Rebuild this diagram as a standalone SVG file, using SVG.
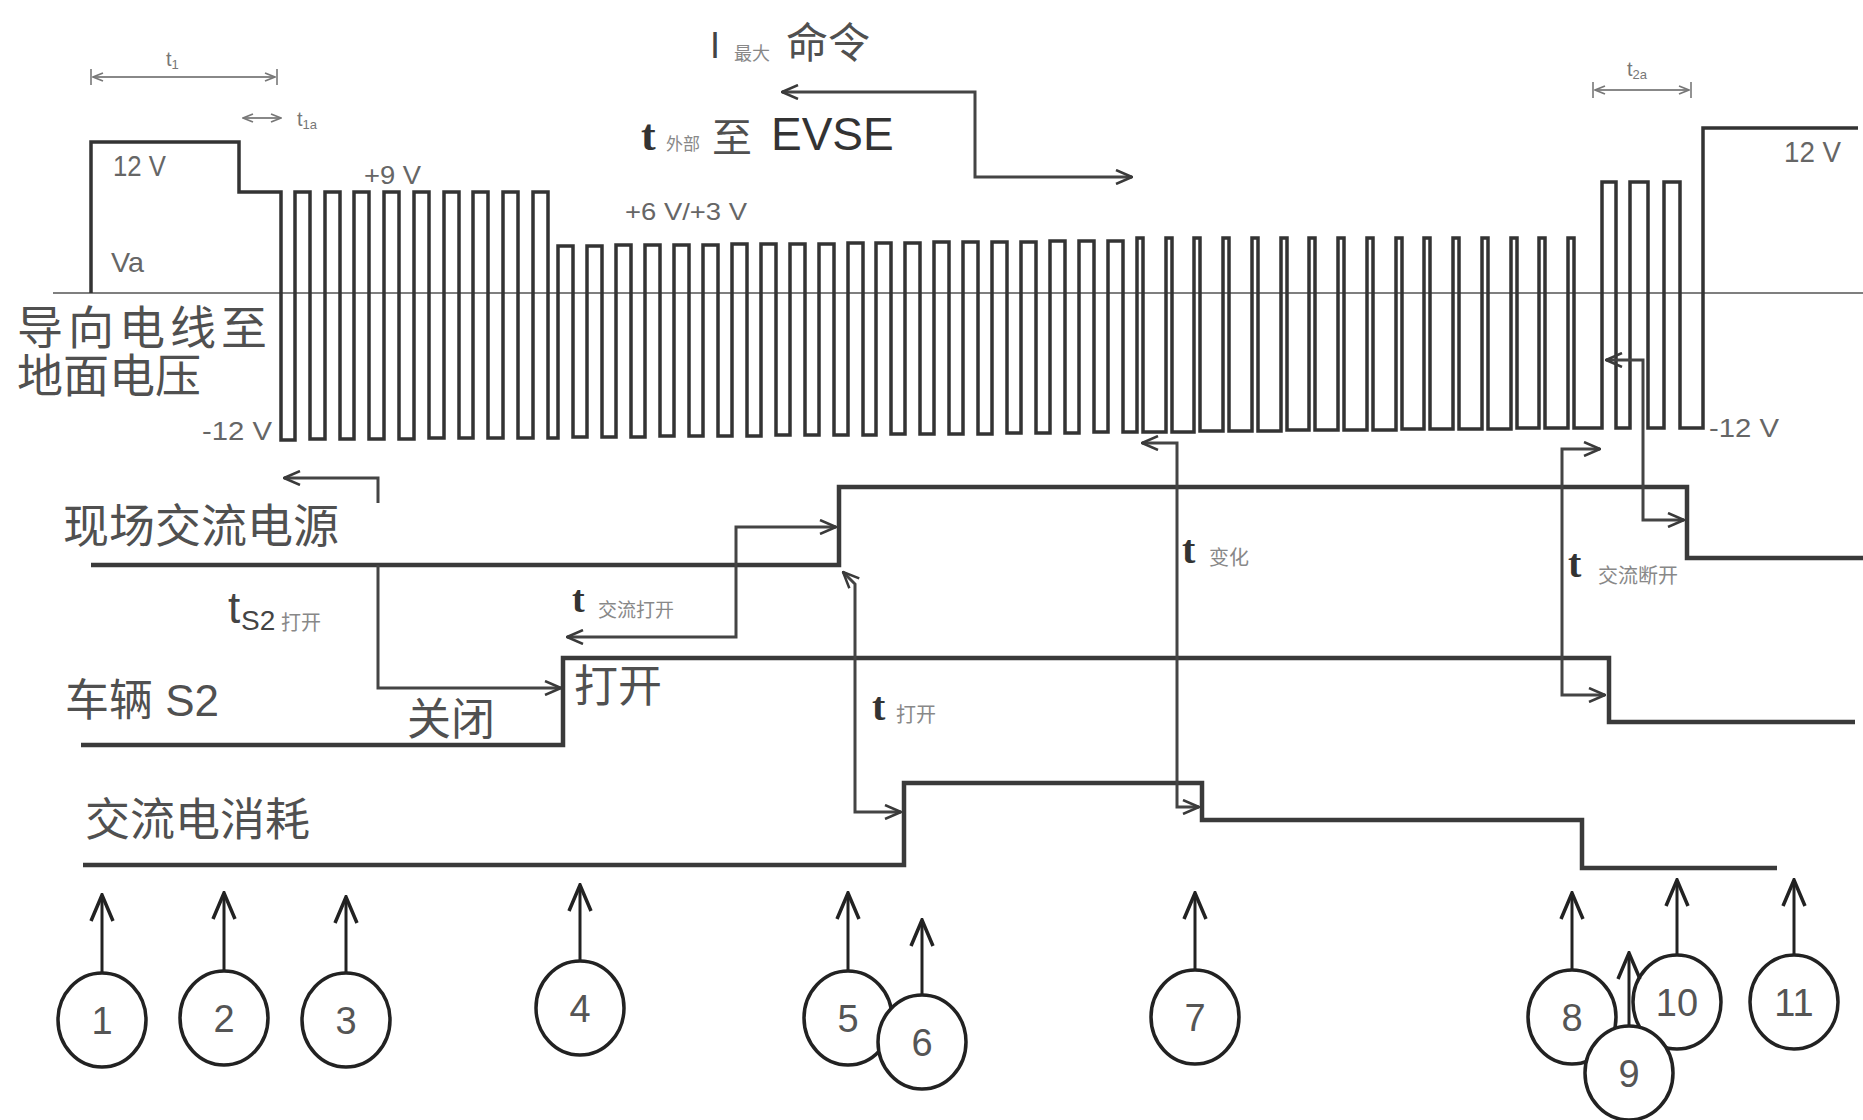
<svg xmlns="http://www.w3.org/2000/svg" width="1863" height="1120" viewBox="0 0 1863 1120">
<defs>
<marker id="a" viewBox="0 0 18 16" refX="17" refY="8" markerWidth="18" markerHeight="16" markerUnits="userSpaceOnUse" orient="auto-start-reverse"><path d="M1,1 L17,8 L1,15" fill="none" stroke="#3a3a3a" stroke-width="2.5"/></marker>
<marker id="u" viewBox="0 0 30 26" refX="28" refY="13" markerWidth="30" markerHeight="26" markerUnits="userSpaceOnUse" orient="auto"><path d="M2,2 L28,13 L2,24" fill="none" stroke="#222" stroke-width="3.5"/></marker>
<marker id="d" viewBox="0 0 12 10" refX="11" refY="5" markerWidth="12" markerHeight="10" markerUnits="userSpaceOnUse" orient="auto-start-reverse"><path d="M1,1 L11,5 L1,9" fill="none" stroke="#777" stroke-width="1.8"/></marker>
<style>
.sig{fill:none;stroke:#333;stroke-width:3.5;stroke-linejoin:miter}
.lvl{fill:none;stroke:#3a3a3a;stroke-width:4.5}
.con{fill:none;stroke:#444;stroke-width:3}
.dim{fill:none;stroke:#888;stroke-width:1.8}
.ev{fill:#fff;stroke:#222;stroke-width:3.5}
.evt{font-family:'Liberation Sans',sans-serif;font-size:38px;fill:#555;text-anchor:middle}
.evl{fill:none;stroke:#222;stroke-width:3}
.cjk{font-family:'Noto Sans CJK SC',sans-serif;fill:#505050}
.v{font-family:'Liberation Sans',sans-serif;fill:#666}
.t{font-family:'Liberation Serif',serif;font-weight:bold;fill:#333}
.sub{font-family:'Noto Sans CJK SC',sans-serif;fill:#888}
.dl{font-family:'Liberation Sans',sans-serif;fill:#777}
</style>
</defs>
<rect width="1863" height="1120" fill="#fff"/>

<g id="pilot">
<line x1="53" y1="293" x2="1863" y2="293" stroke="#555" stroke-width="1.5"/>
<path class="sig" d="M91,293 V142 H239 V192 H281 V440
H295 V192 H310 V439 H325 V192 H340 V439 H354 V192 H369 V439 H384 V192 H399 V439 H414 V192 H429 V438
H444 V192 H459 V438 H473 V192 H488 V438 H503 V192 H518 V438 H533 V192 H548 V438
H558 V246 H573 V437 H587 V246 H602 V437 H616 V245 H631 V437 H645 V245 H660 V436 H674 V245 H689 V436
H703 V245 H718 V436 H732 V244 H747 V436 H761 V244 H776 V435 H790 V244 H805 V435 H819 V244 H834 V435
H848 V243 H863 V435 H876 V243 H891 V434 H905 V243 H920 V434 H934 V242 H949 V434 H963 V242 H978 V434
H992 V242 H1007 V433 H1021 V242 H1036 V433 H1050 V241 H1065 V433 H1079 V241 H1094 V432 H1108 V241 H1123 V432
H1137 V238 H1143 V432 H1166 V238 H1172 V432 H1194 V238 H1200 V431 H1223 V238 H1229 V431 H1252 V238 H1258 V431
H1281 V238 H1287 V430 H1309 V238 H1315 V430 H1338 V238 H1344 V430 H1367 V238 H1373 V430 H1396 V238 H1402 V429
H1424 V238 H1430 V429 H1453 V238 H1459 V429 H1482 V238 H1488 V429 H1511 V238 H1517 V428 H1539 V238 H1545 V428
H1568 V238 H1574 V428 H1602 V182 H1616 V428 H1630 V182 H1648 V428 H1664 V182 H1680 V428 H1703 V128 H1858"/>
<text class="cjk" font-size="46"><tspan x="17" y="344" letter-spacing="5">导向电线至</tspan><tspan x="17" y="392">地面电压</tspan></text>
<text class="v" x="113" y="176" font-size="30" textLength="53" lengthAdjust="spacingAndGlyphs">12 V</text>
<text class="v" x="111" y="272" font-size="28" textLength="33" lengthAdjust="spacingAndGlyphs">Va</text>
<text class="v" x="364" y="184" font-size="26" textLength="57" lengthAdjust="spacingAndGlyphs">+9 V</text>
<text class="v" x="202" y="440" font-size="26" textLength="70" lengthAdjust="spacingAndGlyphs">-12 V</text>
<text class="v" x="625" y="220" font-size="24" textLength="122" lengthAdjust="spacingAndGlyphs">+6 V/+3 V</text>
<text class="v" x="1784" y="162" font-size="30" textLength="57" lengthAdjust="spacingAndGlyphs">12 V</text>
<text class="v" x="1709" y="437" font-size="26" textLength="70" lengthAdjust="spacingAndGlyphs">-12 V</text>
</g>

<g id="ac-supply">
<path class="lvl" d="M91,565 H839 V487 H1687 V558 H1863"/>
<text class="cjk" x="63" y="542" font-size="46">现场交流电源</text>
</g>

<g id="vehicle-s2">
<path class="lvl" d="M81,745 H563 V658 H1609 V722 H1855"/>
<text x="65" y="716" font-family="'Liberation Sans','Noto Sans CJK SC',sans-serif" font-size="44" fill="#505050">车辆 S2</text>
<text class="cjk" x="407" y="735" font-size="44">关闭</text>
<text class="cjk" x="574" y="702" font-size="44">打开</text>
</g>

<g id="ac-consumption">
<path class="lvl" d="M83,865 H904 V783 H1202 V820 H1582 V868 H1777"/>
<text class="cjk" x="85" y="836" font-size="45">交流电消耗</text>
</g>

<g id="labels">
<text class="dl" x="166" y="66" font-size="20">t<tspan font-size="13" dy="3">1</tspan></text>
<text class="dl" x="297" y="126" font-size="20">t<tspan font-size="13" dy="3">1a</tspan></text>
<text class="dl" x="1627" y="76" font-size="20">t<tspan font-size="13" dy="3">2a</tspan></text>
<text x="710" y="58" font-family="'Liberation Sans',sans-serif" font-size="36" fill="#444">I</text>
<text class="sub" x="734" y="60" font-size="18">最大</text>
<text class="cjk" x="786" y="58" font-size="42">命令</text>
<text class="t" x="641" y="150" font-size="44">t</text>
<text class="sub" x="666" y="150" font-size="17">外部</text>
<text class="cjk" x="712" y="152" font-size="40" fill="#333">至</text>
<text x="771" y="150" font-family="'Liberation Sans',sans-serif" font-size="46" fill="#333">EVSE</text>
<text x="228" y="623" font-family="'Liberation Sans',sans-serif" font-size="44" fill="#444">t</text>
<text x="241" y="630" font-family="'Liberation Sans',sans-serif" font-size="28" fill="#444">S2</text>
<text class="sub" x="281" y="630" font-size="20">打开</text>
<text class="t" x="572" y="612" font-size="38">t</text>
<text class="sub" x="598" y="617" font-size="19">交流打开</text>
<text class="t" x="872" y="720" font-size="40">t</text>
<text class="sub" x="896" y="722" font-size="20">打开</text>
<text class="t" x="1182" y="563" font-size="40">t</text>
<text class="sub" x="1209" y="565" font-size="20">变化</text>
<text class="t" x="1568" y="577" font-size="40">t</text>
<text class="sub" x="1598" y="583" font-size="20">交流断开</text>
</g>

<g id="connectors">
<path class="dim" d="M93,77 H275" marker-start="url(#d)" marker-end="url(#d)"/>
<path class="dim" d="M91,69 V85 M277,69 V85"/>
<path class="dim" d="M243,118 H281" marker-start="url(#d)" marker-end="url(#d)"/>
<path class="dim" d="M1595,90 H1689" marker-start="url(#d)" marker-end="url(#d)"/>
<path class="dim" d="M1593,82 V98 M1691,82 V98"/>
<path class="con" d="M782,92 H975 V177 H1132" marker-start="url(#a)" marker-end="url(#a)"/>
<path class="con" d="M378,503 V478 H284" marker-end="url(#a)"/>
<path class="con" d="M378,565 V688 H561" marker-end="url(#a)"/>
<path class="con" d="M567,637 H736 V527 H836" marker-start="url(#a)" marker-end="url(#a)"/>
<path class="con" d="M843,572 L855,584 V812 H901" marker-start="url(#a)" marker-end="url(#a)"/>
<path class="con" d="M1142,443 H1177 V807 H1199" marker-start="url(#a)" marker-end="url(#a)"/>
<path class="con" d="M1600,449 H1562 V695 H1605" marker-start="url(#a)" marker-end="url(#a)"/>
<path class="con" d="M1606,360 H1643 V520 H1684" marker-start="url(#a)" marker-end="url(#a)"/>
</g>

<g id="event-1"><ellipse class="ev" cx="102" cy="1020" rx="44" ry="47"/><text class="evt" x="102" y="1034">1</text></g>
<g id="event-2"><ellipse class="ev" cx="224" cy="1018" rx="44" ry="47"/><text class="evt" x="224" y="1032">2</text></g>
<g id="event-3"><ellipse class="ev" cx="346" cy="1020" rx="44" ry="47"/><text class="evt" x="346" y="1034">3</text></g>
<g id="event-4"><ellipse class="ev" cx="580" cy="1008" rx="44" ry="47"/><text class="evt" x="580" y="1022">4</text></g>
<g id="event-5"><ellipse class="ev" cx="848" cy="1018" rx="44" ry="47"/><text class="evt" x="848" y="1032">5</text></g>
<g id="event-6"><ellipse class="ev" cx="922" cy="1042" rx="44" ry="47"/><text class="evt" x="922" y="1056">6</text></g>
<g id="event-7"><ellipse class="ev" cx="1195" cy="1017" rx="44" ry="47"/><text class="evt" x="1195" y="1031">7</text></g>
<g id="event-8"><ellipse class="ev" cx="1572" cy="1017" rx="44" ry="47"/><text class="evt" x="1572" y="1031">8</text></g>
<g id="event-10"><ellipse class="ev" cx="1677" cy="1002" rx="44" ry="47"/><text class="evt" x="1677" y="1016">10</text></g>
<g id="event-11"><ellipse class="ev" cx="1794" cy="1002" rx="44" ry="47"/><text class="evt" x="1794" y="1016">11</text></g>
<g id="event-9"><ellipse class="ev" cx="1629" cy="1073" rx="44" ry="47"/><text class="evt" x="1629" y="1087">9</text></g>

<g id="event-pointers">
<path class="evl" d="M102,973 V895" marker-end="url(#u)"/>
<path class="evl" d="M224,971 V893" marker-end="url(#u)"/>
<path class="evl" d="M346,973 V897" marker-end="url(#u)"/>
<path class="evl" d="M580,961 V885" marker-end="url(#u)"/>
<path class="evl" d="M848,971 V893" marker-end="url(#u)"/>
<path class="evl" d="M922,995 V920" marker-end="url(#u)"/>
<path class="evl" d="M1195,970 V893" marker-end="url(#u)"/>
<path class="evl" d="M1572,970 V893" marker-end="url(#u)"/>
<path class="evl" d="M1629,1026 V953" marker-end="url(#u)"/>
<path class="evl" d="M1677,955 V880" marker-end="url(#u)"/>
<path class="evl" d="M1794,955 V880" marker-end="url(#u)"/>
</g>
</svg>
